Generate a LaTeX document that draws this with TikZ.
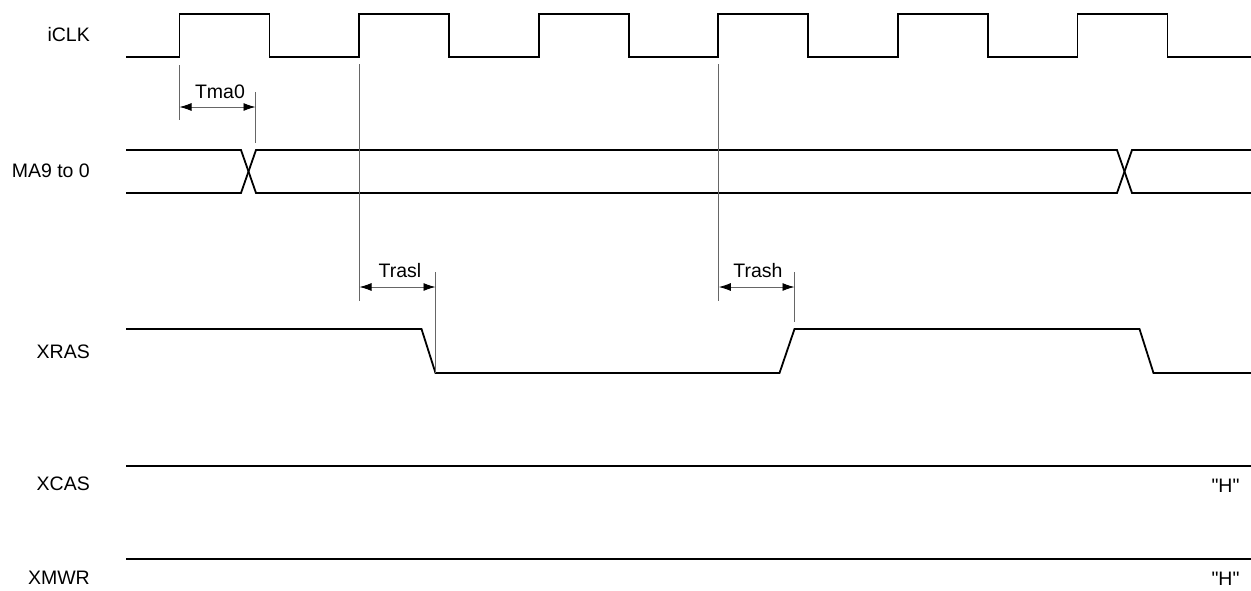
\documentclass[tikz,border=0pt]{standalone}
\usepackage{fontspec}
\setmainfont{Liberation Sans}[Ligatures=TeXOff]
\usetikzlibrary{arrows.meta}
\begin{document}
\begin{tikzpicture}[x=1pt,y=-1pt,
  sig/.style={line width=1.8pt,line join=miter,black},
  ext/.style={line width=0.9pt,gray!80!black},
  dim/.style={line width=0.9pt,gray!80!black,{Latex[length=12pt,width=8pt,black]}-{Latex[length=12pt,width=8pt,black]}},
  lbl/.style={font=\fontsize{19.5}{22}\selectfont,inner sep=0pt,anchor=east},
  tlbl/.style={font=\fontsize{19.5}{22}\selectfont,inner sep=0pt,anchor=base}]
\useasboundingbox (0,0) rectangle (1251,590);
% labels
\node[lbl] (lclk) at (90,35) {iCLK};
\node[lbl] (lma) at (90,171) {MA9 to 0};
\node[lbl] (lras) at (90,352) {XRAS};
\node[lbl] (lcas) at (90,484) {XCAS};
\node[lbl] (lmwr) at (90,578) {XMWR};
% clock
\draw[sig] (126,57) -- (179.5,57) -- (179.5,14) -- (269.5,14) -- (269.5,57)
 -- (359.1,57) -- (359.1,14) -- (449.1,14) -- (449.1,57)
 -- (538.7,57) -- (538.7,14) -- (628.7,14) -- (628.7,57)
 -- (718.3,57) -- (718.3,14) -- (808.3,14) -- (808.3,57)
 -- (897.9,57) -- (897.9,14) -- (987.9,14) -- (987.9,57)
 -- (1077.5,57) -- (1077.5,14) -- (1167.5,14) -- (1167.5,57) -- (1251,57);
% MA bus
\draw[sig] (126,150) -- (241,150) -- (256,193) -- (1117,193) -- (1132,150) -- (1251,150);
\draw[sig] (126,193) -- (241,193) -- (256,150) -- (1117,150) -- (1132,193) -- (1251,193);
% XRAS
\draw[sig] (126,329) -- (421.5,329) -- (435.5,373) -- (779.5,373) -- (794.5,329) -- (1139.5,329) -- (1153.5,373) -- (1251,373);
% XCAS, XMWR
\draw[sig] (126,466) -- (1251,466);
\draw[sig] (126,559) -- (1251,559);
\node[tlbl] (hcas) at (1225.5,492) {"H"};
\node[tlbl] (hmwr) at (1225.5,585) {"H"};
% extension lines
\coordinate (a1) at (179.5,65); \coordinate (a2) at (179.5,120);
\coordinate (b1) at (255.5,92); \coordinate (b2) at (255.5,143);
\coordinate (c1) at (359.5,64); \coordinate (c2) at (359.5,301);
\coordinate (d1) at (435.5,272); \coordinate (d2) at (435.5,373);
\coordinate (e1) at (718.8,64); \coordinate (e2) at (718.8,301);
\coordinate (f1) at (794.5,272); \coordinate (f2) at (794.5,322);
\draw[ext] (a1) -- (a2);
\draw[ext] (b1) -- (b2);
\draw[ext] (c1) -- (c2);
\draw[ext] (d1) -- (d2);
\draw[ext] (e1) -- (e2);
\draw[ext] (f1) -- (f2);
% dimension arrows
\coordinate (ta) at (179.5,107); \coordinate (tb) at (255.5,107);
\coordinate (sa) at (359.5,287); \coordinate (sb) at (435.5,287);
\coordinate (ha) at (718.8,287); \coordinate (hb) at (794.5,287);
\draw[dim] (ta) -- (tb);
\draw[dim] (sa) -- (sb);
\draw[dim] (ha) -- (hb);
\node[tlbl] (tma) at (220,98) {Tma0};
\node[tlbl] (tsl) at (400,277) {Trasl};
\node[tlbl] (tsh) at (758,277) {Trash};
\end{tikzpicture}
\end{document}
